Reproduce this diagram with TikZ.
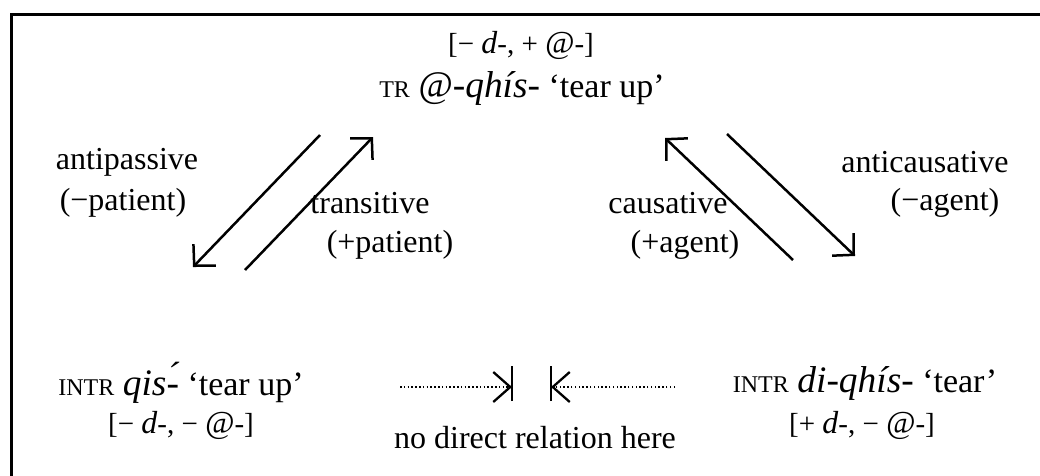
\documentclass[tikz,border=0pt]{standalone}
\usepackage{fontspec}
\setmainfont{Liberation Serif}
\newfontfamily\formfont[Scale=1.10]{Liberation Serif}
\usetikzlibrary{arrows.meta}
\newcommand{\gl}[1]{{\fontsize{24}{28}\selectfont #1}}
\newcommand{\fm}[1]{{\formfont\itshape #1}}
\tikzset{
  lbl/.style={inner sep=0pt, font=\fontsize{32}{38}\selectfont},
  form/.style={inner sep=0pt, font=\fontsize{34}{40}\selectfont},
  feat/.style={inner sep=0pt, font=\fontsize{29}{34}\selectfont},
  rel/.style={line width=2.5pt, -{Straight Barb[length=15pt,width=31pt,line width=2.5pt]}},
  norel/.style={line width=1.5pt, dash pattern=on 1.5pt off 2.3pt, -{Straight Barb[length=17pt,width=30pt,line width=2.3pt]}},
  stopbar/.style={line width=2pt}
}
\begin{document}
\begin{tikzpicture}[x=1pt,y=-1pt]
\useasboundingbox (0,0) rectangle (1040,475);
\begin{scope}
  \clip (0,0) rectangle (1040,475);
  \draw[line width=3pt] (11,14) rectangle (1060,495);
\end{scope}

% transitive base
\node[feat] (trf) at (521,45) {[− \fm{d}-, + \fm{@}-]};
\node[form] (tr) at (522,88) {\gl{TR} \fm{@-qhís-} ‘tear up’};

% intransitive forms
\node[form] (intr1) at (181,383) {\gl{INTR} \fm{qis-́} ‘tear up’};
\node[feat] (intr1f) at (181,425) {[− \fm{d}-, − \fm{@}-]};
\node[form] (intr2) at (865,383) {\gl{INTR} \fm{di-qhís-} ‘tear’};
\node[feat] (intr2f) at (862,425) {[+ \fm{d}-, − \fm{@}-]};

% relation labels
\node[lbl] (ap) at (127,162) {antipassive};
\node[lbl] (app) at (123,203) {(−patient)};
\node[lbl] (tv) at (370,203) {transitive};
\node[lbl] (tvp) at (390,245) {(+patient)};
\node[lbl] (cs) at (668,203) {causative};
\node[lbl] (csa) at (685,245) {(+agent)};
\node[lbl] (ac) at (925,162) {anticausative};
\node[lbl] (aca) at (945,203) {(−agent)};
\node[lbl] (nd) at (535,438) {no direct relation here};

% arrow end points
\coordinate (apS) at (320,135);  \coordinate (apE) at (193,267);
\coordinate (tvS) at (245,270);  \coordinate (tvE) at (373,137);
\coordinate (csS) at (793,260);  \coordinate (csE) at (665,138);
\coordinate (acS) at (727,134);  \coordinate (acE) at (855,256);
\coordinate (nlS) at (400,387);  \coordinate (nlE) at (512,387);
\coordinate (nrS) at (675,387);  \coordinate (nrE) at (551,387);

\draw[rel] (apS) -- (apE);
\draw[rel] (tvS) -- (tvE);
\draw[rel] (csS) -- (csE);
\draw[rel] (acS) -- (acE);

\draw[norel] (nlS) -- (nlE);
\draw[norel] (nrS) -- (nrE);
\draw[stopbar] ([yshift=-14pt]nlE) -- ([yshift=21pt]nlE);
\draw[stopbar] ([yshift=-14pt]nrE) -- ([yshift=21pt]nrE);
\end{tikzpicture}
\end{document}
